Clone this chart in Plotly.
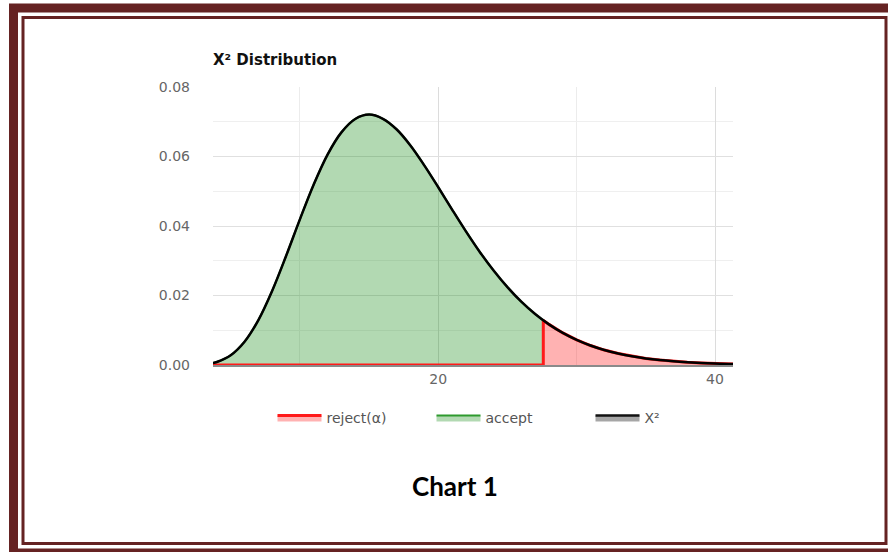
import plotly.graph_objects as go

# ---- data (chi-square density curve) ----
x_vals = [3.72, 4, 5, 6, 7, 8, 9, 10, 11, 12, 13, 14, 15, 16, 17, 18, 19, 20,
          21, 22, 23, 24, 25, 26, 27, 28, 29, 30, 31, 32, 33, 34, 35, 36, 37,
          38, 39, 40, 41, 41.3]
y_vals = [0.00058, 0.00087, 0.00282, 0.00671, 0.01294, 0.02139, 0.03137, 0.04192,
          0.05196, 0.06056, 0.06694, 0.07080, 0.07206, 0.07084, 0.06776, 0.06311,
          0.05739, 0.05115, 0.04473, 0.03846, 0.03254, 0.02718, 0.02239, 0.01822,
          0.01467, 0.01169, 0.00922, 0.00721, 0.00560, 0.00430, 0.00329, 0.00249,
          0.00188, 0.00141, 0.00105, 0.00078, 0.00057, 0.00042, 0.00031, 0.00028]
crit_x = 27.59
crit_y = 0.01284

legend_names = ["reject(\u03b1)", "accept", "X\u00b2"]
title_text = "X\u00b2 Distribution"
caption_text = "Chart 1"

# ---- derived regions ----
acc_x = [x for x in x_vals if x < crit_x] + [crit_x]
acc_y = [y for x, y in zip(x_vals, y_vals) if x < crit_x] + [crit_y]
tail_x = [crit_x] + [x for x in x_vals if x > crit_x]
tail_y = [crit_y] + [y for x, y in zip(x_vals, y_vals) if x > crit_x]
rej_x = [x_vals[0], crit_x] + tail_x + [tail_x[-1]]
rej_y = [0, 0] + tail_y + [0]

fig = go.Figure()
fig.add_trace(go.Scatter(
    x=acc_x, y=acc_y, name=legend_names[1], mode="lines", line_shape="spline",
    line=dict(color="#2e9a2e", width=2), fill="tozeroy",
    fillcolor="rgba(0,128,0,0.30)", hoverinfo="skip", legendrank=2))
fig.add_trace(go.Scatter(
    x=rej_x, y=rej_y, name=legend_names[0], mode="lines",
    line=dict(color="#ff1a1a", width=3), fill="toself",
    fillcolor="rgba(255,0,0,0.30)", hoverinfo="skip", legendrank=1))
fig.add_trace(go.Scatter(
    x=x_vals, y=y_vals, name=legend_names[2], mode="lines", line_shape="spline",
    line=dict(color="#000000", width=2.5), showlegend=False))
fig.add_trace(go.Scatter(
    x=[None], y=[None], name=legend_names[2], mode="lines",
    line=dict(color="#111111", width=2.5), fill="tozeroy",
    fillcolor="rgba(0,0,0,0.35)", legendrank=3))

L, R, T, B = 213, 155, 87, 187
W, H = 888, 552
pw, ph = W - L - R, H - T - B

def px(v):
    return (v - L) / pw

def py(v):
    return (H - B - v) / ph

border = "#652323"
fig.add_shape(type="rect", xref="paper", yref="paper",
              x0=px(13.5), x1=px(893), y0=py(8), y1=py(553),
              line=dict(color=border, width=9), fillcolor="rgba(0,0,0,0)")
fig.add_shape(type="rect", xref="paper", yref="paper",
              x0=px(23), x1=px(886), y0=py(17.5), y1=py(543.5),
              line=dict(color=border, width=3), fillcolor="rgba(0,0,0,0)")

fig.add_annotation(text=caption_text, xref="paper", yref="paper",
                   x=px(455), y=py(486), xanchor="center", yanchor="middle",
                   showarrow=False,
                   font=dict(family="Lato", size=26, color="#000000", weight="bold"))

fig.update_layout(
    width=W, height=H,
    margin=dict(l=L, r=R, t=T, b=B),
    paper_bgcolor="white", plot_bgcolor="white",
    title=dict(text="<b>" + title_text + "</b>", x=px(213), xanchor="left",
               xref="paper", y=1 - 60 / H, yref="container", yanchor="middle",
               font=dict(family="DejaVu Sans", size=15, color="#111111")),
    legend=dict(orientation="h", x=px(511), xanchor="center", y=py(418),
                yanchor="middle", font=dict(family="DejaVu Sans", size=14, color="#555555"),
                itemwidth=44, traceorder="normal", entrywidth=100,
                entrywidthmode="pixels"),
    font=dict(family="DejaVu Sans"),
)
fig.update_xaxes(range=[3.72, 41.3], tick0=0, dtick=20, showgrid=True,
                 gridcolor="#dcdcdc", gridwidth=1,
                 minor=dict(dtick=10, tick0=0, showgrid=True, gridcolor="#ececec"),
                 zeroline=False, showline=True, linecolor="#8a8a8a", linewidth=1.5,
                 layer="below traces",
                 tickfont=dict(family="DejaVu Sans", size=14, color="#666666"))
fig.update_yaxes(range=[0, 0.08], tick0=0, dtick=0.02, tickformat=".2f",
                 showgrid=True, gridcolor="#e0e0e0", gridwidth=1,
                 minor=dict(dtick=0.01, tick0=0, showgrid=True, gridcolor="#efefef"),
                 zeroline=False, showline=False, ticklabelstandoff=22,
                 tickfont=dict(family="DejaVu Sans", size=14, color="#666666"))

fig.write_html("out.html", config={"displayModeBar": False},
               post_script="document.body.style.margin='0';")
